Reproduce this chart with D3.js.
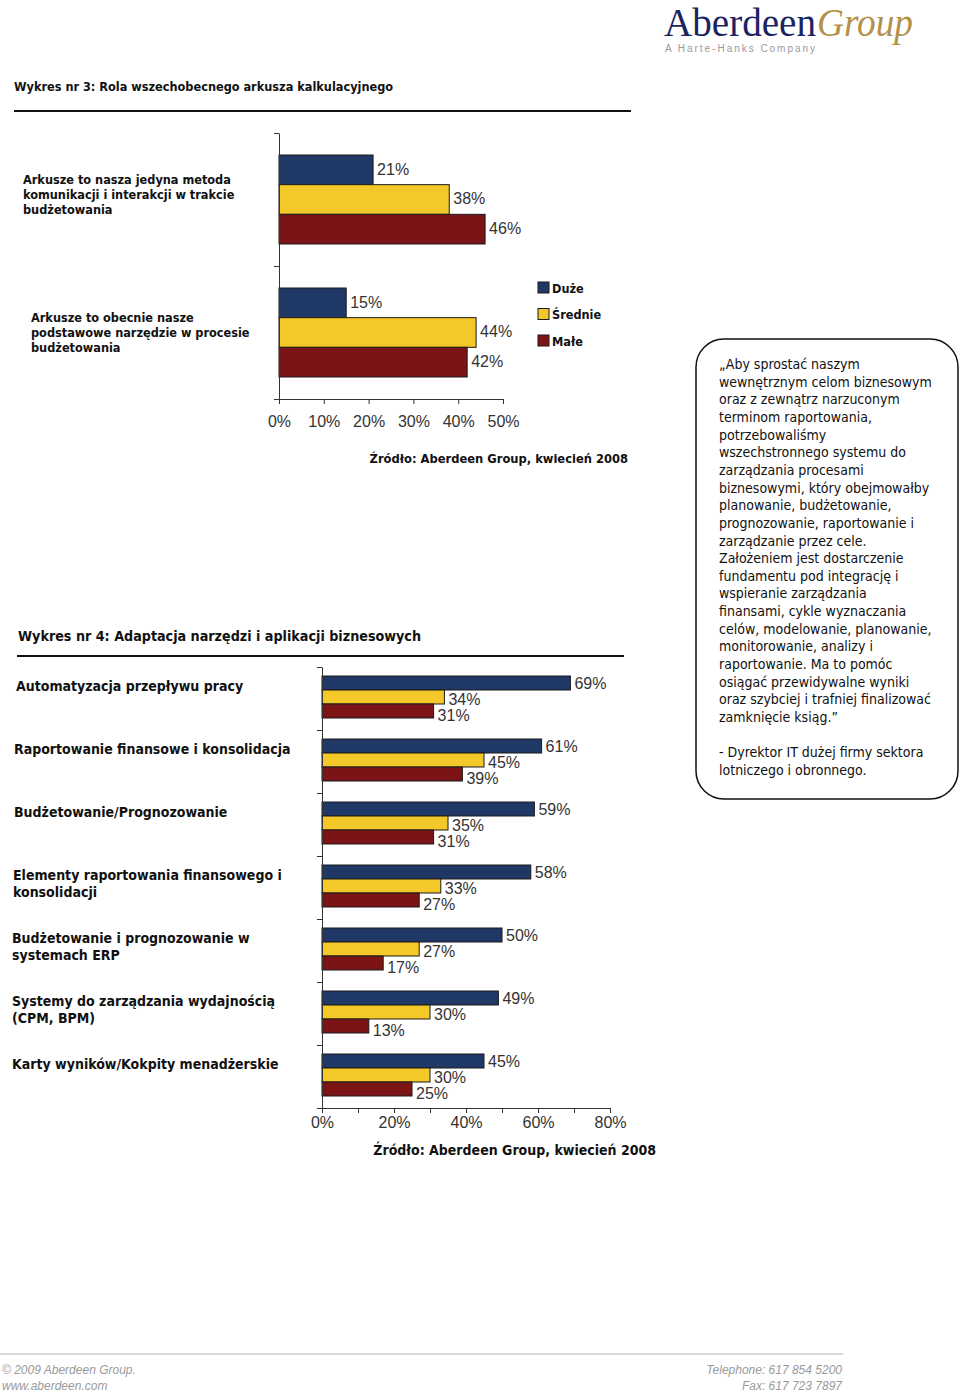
<!DOCTYPE html>
<html>
<head>
<meta charset="utf-8">
<script src="https://cdn.jsdelivr.net/npm/d3@7"></script>
<style>
  body { margin: 0; background: #fff; }
  svg { display: block; }
</style>
</head>
<body>
<svg id="page"></svg>
<script>
// --- data ---
const seriesNames = ['Duże', 'Średnie', 'Małe'];
const seriesColors = ['#1f3866', '#f5c82a', '#7c1416'];

const chart1Title = 'Wykres nr 3: Rola wszechobecnego arkusza kalkulacyjnego';
const chart1Categories = [
  'Arkusze to nasza jedyna metoda\nkomunikacji i interakcji w trakcie\nbudżetowania',
  'Arkusze to obecnie nasze\npodstawowe narzędzie w procesie\nbudżetowania'
];
const chart1Duze = [21, 15];
const chart1Srednie = [38, 44];
const chart1Male = [46, 42];
const chart1Ticks = [0, 10, 20, 30, 40, 50];

const chart2Title = 'Wykres nr 4: Adaptacja narzędzi i aplikacji biznesowych';
const chart2Categories = [
  'Automatyzacja przepływu pracy',
  'Raportowanie finansowe i konsolidacja',
  'Budżetowanie/Prognozowanie',
  'Elementy raportowania finansowego i\nkonsolidacji',
  'Budżetowanie i prognozowanie w\nsystemach ERP',
  'Systemy do zarządzania wydajnością\n(CPM, BPM)',
  'Karty wyników/Kokpity menadżerskie'
];
const chart2Duze = [69, 61, 59, 58, 50, 49, 45];
const chart2Srednie = [34, 45, 35, 33, 27, 30, 30];
const chart2Male = [31, 39, 31, 27, 17, 13, 25];
const chart2Ticks = [0, 10, 20, 30, 40, 50, 60, 70, 80];

const sourceText = 'Źródło: Aberdeen Group, kwiecień 2008';

const quoteLines = [
  '„Aby sprostać naszym',
  'wewnętrznym celom biznesowym',
  'oraz z zewnątrz narzuconym',
  'terminom raportowania,',
  'potrzebowaliśmy',
  'wszechstronnego systemu do',
  'zarządzania procesami',
  'biznesowymi, który obejmowałby',
  'planowanie, budżetowanie,',
  'prognozowanie, raportowanie i',
  'zarządzanie przez cele.',
  'Założeniem jest dostarczenie',
  'fundamentu pod integrację i',
  'wspieranie zarządzania',
  'finansami, cykle wyznaczania',
  'celów, modelowanie, planowanie,',
  'monitorowanie, analizy i',
  'raportowanie. Ma to pomóc',
  'osiągać przewidywalne wyniki',
  'oraz szybciej i trafniej finalizować',
  'zamknięcie ksiąg.”',
  '',
  '- Dyrektor IT dużej firmy sektora',
  'lotniczego i obronnego.'
];

const W = 960, H = 1393;
const svg = d3.select('#page').attr('width', W).attr('height', H);

const boldFont = '"DejaVu Sans Condensed", "DejaVu Sans", sans-serif';
const numFont = '"Liberation Sans", Arial, sans-serif';

// --- logo ---
const logo = svg.append('g');
logo.append('text')
  .attr('x', 664).attr('y', 36)
  .attr('font-family', '"Liberation Serif", serif')
  .attr('font-size', 41).attr('fill', '#1b2461')
  .attr('textLength', 152).attr('lengthAdjust', 'spacingAndGlyphs')
  .text('Aberdeen');
logo.append('text')
  .attr('x', 817).attr('y', 36)
  .attr('font-family', '"Liberation Serif", serif')
  .attr('font-style', 'italic')
  .attr('font-size', 41).attr('fill', '#b3914a')
  .attr('textLength', 96).attr('lengthAdjust', 'spacingAndGlyphs')
  .text('Group');
logo.append('text')
  .attr('x', 665).attr('y', 52)
  .attr('font-family', numFont)
  .attr('font-size', 10).attr('fill', '#999')
  .attr('textLength', 150).attr('lengthAdjust', 'spacing')
  .text('A Harte-Hanks Company');

// --- helper for a grouped horizontal bar chart ---
function barChart(opts) {
  const g = svg.append('g');
  const rows = opts.categories.map((c, i) => ({
    cat: c,
    values: [opts.duze[i], opts.srednie[i], opts.male[i]]
  }));

  // title + rule
  g.append('text')
    .attr('x', opts.titleX).attr('y', opts.titleY)
    .attr('font-family', boldFont).attr('font-weight', 'bold')
    .attr('font-size', opts.titleSize).attr('fill', '#111')
    .text(opts.title);
  g.append('line')
    .attr('x1', opts.ruleX1).attr('x2', opts.ruleX2)
    .attr('y1', opts.ruleY).attr('y2', opts.ruleY)
    .attr('stroke', '#111').attr('stroke-width', 2);

  const x = d3.scaleLinear().domain(opts.xDomain).range(opts.xRange);
  const y = d3.scaleBand().domain(d3.range(rows.length)).range(opts.yRange).padding(0);
  const yIdx = d3.scaleLinear().domain([0, rows.length]).range(opts.yRange);
  const inner = d3.scaleBand().domain(d3.range(3)).range(opts.innerRange);

  // bars
  const grp = g.selectAll('.grp').data(rows).join('g')
    .attr('transform', (d, i) => `translate(0,${y(i)})`);
  grp.selectAll('rect').data(d => d.values).join('rect')
    .attr('x', x(0))
    .attr('y', (d, j) => inner(j))
    .attr('width', d => x(d) - x(0))
    .attr('height', inner.bandwidth())
    .attr('fill', (d, j) => seriesColors[j])
    .attr('stroke', '#1a1a1a').attr('stroke-width', 1);
  grp.selectAll('text.val').data(d => d.values).join('text')
    .attr('class', 'val')
    .attr('x', d => x(d) + 4)
    .attr('y', (d, j) => inner(j) + inner.bandwidth() / 2 + opts.labelShift[j])
    .attr('dy', '0.36em')
    .attr('font-family', numFont).attr('font-size', opts.valSize)
    .attr('fill', '#333')
    .text(d => d + '%');

  // category labels
  grp.each(function (d, i) {
    const lines = d.cat.split('\n');
    const t = d3.select(this).append('text')
      .attr('font-family', boldFont).attr('font-weight', 'bold')
      .attr('font-size', opts.catSize).attr('fill', '#111');
    lines.forEach((ln, k) => {
      t.append('tspan')
        .attr('x', opts.catX[i])
        .attr('y', opts.catY(y.bandwidth(), i) + k * opts.catLine)
        .attr('dy', '0.36em')
        .text(ln);
    });
  });

  // y axis (category separators)
  g.append('g')
    .attr('transform', `translate(${x(0)},0)`)
    .call(d3.axisLeft(yIdx).tickValues(d3.range(rows.length + 1)).tickFormat('').tickSize(5).tickSizeOuter(0))
    .call(a => a.selectAll('path,line').attr('stroke', '#333'));

  // x axis
  const xa = g.append('g')
    .attr('transform', `translate(0,${opts.yRange[1]})`)
    .call(d3.axisBottom(x).tickValues(opts.ticks).tickSize(5).tickSizeOuter(0)
      .tickFormat(d => opts.tickLabel(d) ? d + '%' : ''))
    .call(a => a.selectAll('path,line').attr('stroke', '#333'));
  xa.selectAll('text')
    .attr('font-family', numFont).attr('font-size', opts.valSize)
    .attr('fill', '#333').attr('y', opts.tickY).attr('dy', '0.36em');

  // source
  g.append('text')
    .attr('x', opts.srcX).attr('y', opts.srcY)
    .attr('text-anchor', 'end').attr('dy', '0.36em')
    .attr('font-family', boldFont).attr('font-weight', 'bold')
    .attr('font-size', opts.srcSize).attr('fill', '#111')
    .text(sourceText);
  return { x, y };
}

const c1 = barChart({
  title: chart1Title, titleX: 14, titleY: 91, titleSize: 12.6,
  ruleX1: 14, ruleX2: 631, ruleY: 111,
  categories: chart1Categories, duze: chart1Duze, srednie: chart1Srednie, male: chart1Male,
  xDomain: [0, 50], xRange: [279, 503],
  yRange: [133, 399], innerRange: [22, 111],
  labelShift: [-1, -1, -1], valSize: 16,
  catX: [23, 31], catSize: 12.6, catLine: 15,
  catY: (bw, i) => [46, 51][i],
  ticks: chart1Ticks, tickLabel: () => true, tickY: 22,
  srcX: 628, srcY: 458, srcSize: 12.8
});

// legend (chart 1)
const legend = svg.append('g');
seriesNames.forEach((name, j) => {
  const ly = 282 + j * 26.5;
  legend.append('rect')
    .attr('x', 538).attr('y', ly).attr('width', 11).attr('height', 11)
    .attr('fill', seriesColors[j]).attr('stroke', '#1a1a1a').attr('stroke-width', 1);
  legend.append('text')
    .attr('x', 552).attr('y', ly + 6).attr('dy', '0.36em')
    .attr('font-family', boldFont).attr('font-weight', 'bold')
    .attr('font-size', 12.6).attr('fill', '#111')
    .text(name);
});

barChart({
  title: chart2Title, titleX: 18, titleY: 641, titleSize: 14.2,
  ruleX1: 17, ruleX2: 624, ruleY: 656,
  categories: chart2Categories, duze: chart2Duze, srednie: chart2Srednie, male: chart2Male,
  xDomain: [0, 80], xRange: [322, 610],
  yRange: [667, 1108], innerRange: [9, 51],
  labelShift: [0, 2, 4], valSize: 16,
  catX: [16, 14, 14, 13, 12, 12, 12], catSize: 14, catLine: 17,
  catY: (bw, i) => bw / 2 - 13,
  ticks: chart2Ticks, tickLabel: d => d % 20 === 0, tickY: 14,
  srcX: 656, srcY: 1150, srcSize: 14
});

// --- quote box ---
const q = svg.append('g');
q.append('rect')
  .attr('x', 696).attr('y', 339).attr('width', 262).attr('height', 460)
  .attr('rx', 28).attr('ry', 28)
  .attr('fill', '#fff').attr('stroke', '#111').attr('stroke-width', 1.5);
q.append('text')
  .attr('font-family', boldFont).attr('font-size', 14).attr('fill', '#111')
  .selectAll('tspan').data(quoteLines).join('tspan')
  .attr('x', 719)
  .attr('y', (d, i) => 364 + i * 17.65)
  .attr('dy', '0.36em')
  .text(d => d);

// --- footer ---
const f = svg.append('g')
  .attr('font-family', '"Liberation Sans Narrow", "Liberation Sans", sans-serif')
  .attr('font-style', 'italic').attr('font-size', 12).attr('fill', '#9a9a9a');
f.append('line')
  .attr('x1', 0).attr('x2', 843).attr('y1', 1354).attr('y2', 1354)
  .attr('stroke', '#ccc').attr('stroke-width', 1.5);
f.append('text').attr('x', 2).attr('y', 1374).text('© 2009 Aberdeen Group.');
f.append('text').attr('x', 2).attr('y', 1390).text('www.aberdeen.com');
f.append('text').attr('x', 842).attr('y', 1374).attr('text-anchor', 'end').text('Telephone: 617 854 5200');
f.append('text').attr('x', 842).attr('y', 1390).attr('text-anchor', 'end').text('Fax: 617 723 7897');
</script>
</body>
</html>
